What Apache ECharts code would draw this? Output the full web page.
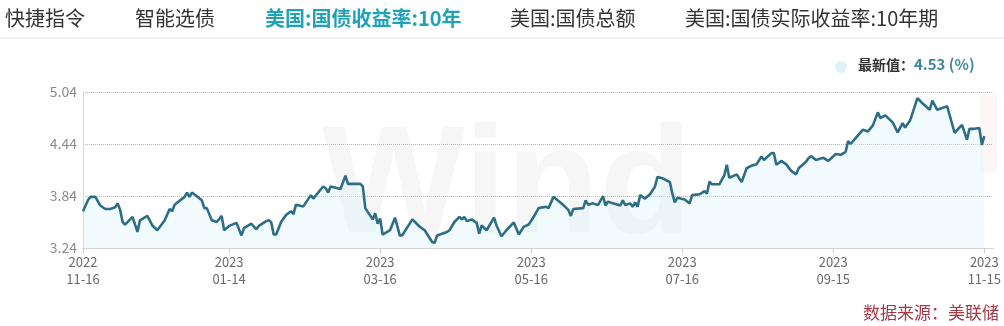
<!DOCTYPE html>
<html>
<head>
<meta charset="utf-8">
<script src="https://cdn.jsdelivr.net/npm/echarts@6/dist/echarts.min.js"></script>
<style>
html,body{margin:0;padding:0;background:#fff;}
#chart{width:1004px;height:326px;}
</style>
</head>
<body>
<div id="chart"></div>
<script>
// ---- data ----
const tabLabels = ['快捷指令', '智能选债', '美国:国债收益率:10年', '美国:国债总额', '美国:国债实际收益率:10年期'];
const activeTab = 2;
const legendLabel = '最新值';
const unitLabel = '(%)';
const sourceLabel = '数据来源：美联储';
const xTickDates = ['2022-11-16', '2023-01-14', '2023-03-16', '2023-05-16', '2023-07-16', '2023-09-15', '2023-11-15'];
const yTicks = [3.24, 3.84, 4.44, 5.04];

const dates = [
'2022-11-16','2022-11-18','2022-11-19','2022-11-21','2022-11-23','2022-11-25','2022-11-27','2022-11-29','2022-11-30',
'2022-12-01','2022-12-02','2022-12-03','2022-12-06','2022-12-08','2022-12-09','2022-12-12','2022-12-14','2022-12-16',
'2022-12-19','2022-12-21','2022-12-22','2022-12-23','2022-12-27','2022-12-28','2022-12-29','2022-12-30',
'2023-01-03','2023-01-04','2023-01-05','2023-01-07','2023-01-09','2023-01-11','2023-01-12','2023-01-14','2023-01-17',
'2023-01-19','2023-01-20','2023-01-23','2023-01-25','2023-01-26','2023-01-29','2023-01-30','2023-01-31',
'2023-02-01','2023-02-02','2023-02-04','2023-02-06','2023-02-08','2023-02-09','2023-02-10','2023-02-13','2023-02-16',
'2023-02-17','2023-02-21','2023-02-22','2023-02-23','2023-02-24','2023-02-28',
'2023-03-02','2023-03-03','2023-03-08','2023-03-09','2023-03-10','2023-03-13','2023-03-14','2023-03-15','2023-03-16',
'2023-03-17','2023-03-20','2023-03-22','2023-03-24','2023-03-25','2023-03-29',
'2023-04-01','2023-04-03','2023-04-06','2023-04-07','2023-04-08','2023-04-10','2023-04-12','2023-04-13','2023-04-15',
'2023-04-17','2023-04-18','2023-04-19','2023-04-20','2023-04-22','2023-04-24','2023-04-25','2023-04-26','2023-04-28',
'2023-05-01','2023-05-02','2023-05-04','2023-05-06','2023-05-09','2023-05-11','2023-05-13','2023-05-15','2023-05-17',
'2023-05-19','2023-05-22','2023-05-23','2023-05-25','2023-05-29','2023-05-31',
'2023-06-01','2023-06-02','2023-06-06','2023-06-07','2023-06-08','2023-06-10','2023-06-12','2023-06-14','2023-06-15',
'2023-06-16','2023-06-18','2023-06-21','2023-06-22','2023-06-23','2023-06-25','2023-06-26','2023-06-27','2023-06-28','2023-06-29',
'2023-07-01','2023-07-03','2023-07-05','2023-07-06','2023-07-08','2023-07-11','2023-07-12','2023-07-13','2023-07-14',
'2023-07-17','2023-07-19','2023-07-20','2023-07-23','2023-07-25','2023-07-26','2023-07-27','2023-07-28','2023-07-31',
'2023-08-02','2023-08-03','2023-08-04','2023-08-07','2023-08-09','2023-08-11','2023-08-13','2023-08-15','2023-08-17',
'2023-08-18','2023-08-21','2023-08-22','2023-08-23','2023-08-25','2023-08-27','2023-08-29','2023-08-31',
'2023-09-01','2023-09-04','2023-09-05','2023-09-06','2023-09-08','2023-09-11','2023-09-13','2023-09-16','2023-09-18',
'2023-09-20','2023-09-21','2023-09-22','2023-09-25','2023-09-27','2023-09-29',
'2023-10-01','2023-10-03','2023-10-04','2023-10-06','2023-10-09','2023-10-11','2023-10-13','2023-10-14','2023-10-16',
'2023-10-19','2023-10-21','2023-10-24','2023-10-25','2023-10-27','2023-10-31',
'2023-11-03','2023-11-06','2023-11-08','2023-11-09','2023-11-11','2023-11-13','2023-11-14','2023-11-15'
];
const yields = [
3.665,3.79,3.83,3.83,3.73,3.69,3.69,3.71,3.755,
3.68,3.54,3.51,3.60,3.425,3.56,3.61,3.50,3.445,
3.56,3.69,3.665,3.74,3.83,3.88,3.83,3.88,
3.79,3.70,3.70,3.56,3.54,3.61,3.445,3.495,3.53,
3.385,3.47,3.52,3.455,3.495,3.55,3.56,3.54,
3.395,3.395,3.54,3.62,3.665,3.63,3.74,3.72,3.85,
3.81,3.95,3.93,3.88,3.95,3.92,
4.075,3.98,3.98,3.95,3.70,3.57,3.64,3.52,3.58,
3.395,3.445,3.59,3.38,3.39,3.57,
3.485,3.445,3.31,3.30,3.385,3.405,3.425,3.445,3.54,
3.60,3.57,3.60,3.55,3.57,3.53,3.405,3.50,3.445,
3.59,3.50,3.375,3.445,3.535,3.395,3.485,3.51,3.60,
3.70,3.715,3.70,3.83,3.735,3.68,
3.61,3.69,3.70,3.79,3.74,3.755,3.735,3.84,3.73,
3.775,3.755,3.73,3.79,3.735,3.755,3.715,3.765,3.715,3.85,
3.81,3.86,3.95,4.06,4.045,4.00,3.87,3.765,3.82,
3.80,3.755,3.85,3.86,3.895,3.87,4.005,3.975,3.975,
4.08,4.20,4.05,4.09,4.00,4.16,4.19,4.205,4.295,
4.255,4.335,4.335,4.20,4.245,4.205,4.13,4.09,
4.16,4.235,4.275,4.30,4.255,4.28,4.245,4.325,4.315,
4.35,4.475,4.44,4.54,4.605,4.585,
4.655,4.805,4.74,4.77,4.69,4.575,4.68,4.63,4.71,
4.97,4.91,4.835,4.94,4.835,4.875,
4.57,4.66,4.49,4.615,4.615,4.625,4.43,4.53
];

// ---- helpers ----
function toTime(s) { const p = s.split('-').map(Number); return Date.UTC(p[0], p[1] - 1, p[2]); }
const DAY = 86400000;
const xMin = toTime(xTickDates[0]);
const xMax = xMin + 367.6 * DAY;
const seriesData = dates.map((d, i) => [toTime(d), yields[i]]);
const latest = yields[yields.length - 1];
const xTickValues = xTickDates.map(toTime);

const tabX = [5, 135, 265, 510, 685];
const tabGraphics = tabLabels.map((t, i) => ({
  type: 'text', left: tabX[i], top: 8, z: 10,
  style: {
    text: t,
    fontFamily: '"Noto Sans CJK SC", sans-serif',
    fontSize: 20,
    fontWeight: i === activeTab ? 'bold' : 'normal',
    fill: i === activeTab ? '#20a3b7' : '#333333'
  }
}));

const chart = echarts.init(document.getElementById('chart'), null, { renderer: 'canvas' });
chart.setOption({
  animation: false,
  backgroundColor: '#ffffff',
  grid: { left: 83, right: 9, top: 92, bottom: 78, containLabel: false },
  xAxis: {
    type: 'value',
    min: xMin,
    max: xMax,
    scale: true,
    axisLine: { show: true, lineStyle: { color: '#d4d4d4', width: 1 } },
    axisTick: { show: true, length: 5, lineStyle: { color: '#cccccc' }, customValues: xTickValues },
    splitLine: { show: false },
    axisLabel: {
      customValues: xTickValues,
      hideOverlap: false,
      showMinLabel: true,
      showMaxLabel: true,
      color: '#6a6a6a',
      fontSize: 13,
      lineHeight: 17,
      margin: 6,
      fontFamily: '"Noto Sans CJK SC", sans-serif',
      formatter: function (v) {
        const d = new Date(v);
        const mm = String(d.getUTCMonth() + 1).padStart(2, '0');
        const dd = String(d.getUTCDate()).padStart(2, '0');
        return d.getUTCFullYear() + '\n' + mm + '-' + dd;
      }
    }
  },
  yAxis: {
    type: 'value',
    min: yTicks[0],
    max: yTicks[yTicks.length - 1],
    axisLine: { show: true, lineStyle: { color: '#d6d6d6' } },
    axisTick: { show: false, customValues: yTicks },
    splitLine: { show: true, lineStyle: { color: '#b8b8b8', type: 'dotted', width: 1 } },
    axisLabel: {
      customValues: yTicks,
      color: '#8a8a8a', fontSize: 14, margin: 6,
      fontFamily: '"Noto Sans CJK SC", sans-serif',
      formatter: v => v.toFixed(2)
    }
  },
  graphic: tabGraphics.concat([
    { type: 'line', shape: { x1: 0, y1: 38, x2: 1004, y2: 38 }, style: { stroke: '#e6e6e6', lineWidth: 1 }, z: 5 },
    { type: 'text', left: 322, top: 114, z: 0, silent: true,
      style: { text: 'Wind', fontFamily: '"Liberation Sans", Arial, sans-serif', fontWeight: 'bold', fontSize: 152, fill: 'rgba(110,110,110,0.06)' } },
    { type: 'rect', shape: { x: 980, y: 95, width: 17, height: 78 }, style: { fill: 'rgba(230,160,160,0.09)' }, z: 1, silent: true },
    { type: 'circle', shape: { cx: 841, cy: 67, r: 6 }, style: { fill: '#dcf3f6' }, z: 10 },
    { type: 'text', left: 858, top: 57, z: 10,
      style: {
        text: '{a|' + legendLabel + '：}{b|' + latest.toFixed(2) + ' ' + unitLabel + '}',
        rich: {
          a: { fontFamily: '"Noto Sans CJK SC", sans-serif', fontSize: 14, fontWeight: 'bold', fill: '#333333' },
          b: { fontFamily: '"Noto Sans CJK SC", sans-serif', fontSize: 15, fontWeight: 'bold', fill: '#3a8a99' }
        }
      } },
    { type: 'text', right: 5, top: 304, z: 10,
      style: { text: sourceLabel, fontFamily: '"Noto Sans CJK SC", sans-serif', fontSize: 17, fill: '#a33a48' } }
  ]),
  series: [{
    type: 'line',
    data: seriesData,
    showSymbol: false,
    smooth: false,
    z: 3,
    lineStyle: { color: '#2d6e86', width: 2.6 },
    areaStyle: { color: 'rgba(214,243,248,0.5)' }
  }]
});
</script>
</body>
</html>
